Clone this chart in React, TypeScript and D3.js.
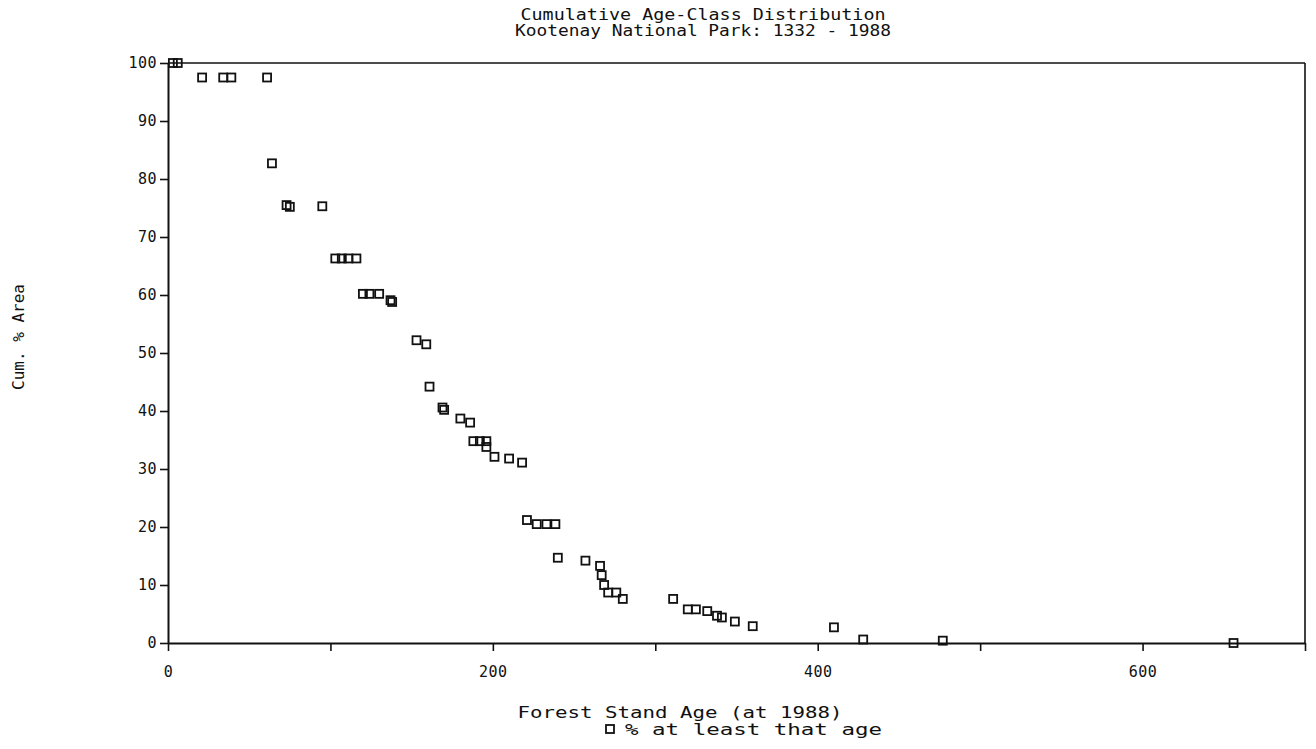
import React, { useRef, useEffect } from 'react';
import * as d3 from 'd3';

// stand age (years at 1988) and cumulative % area at least that age
const AGES = [
  3, 6, 21, 34, 39, 61, 64, 73, 75, 95,
  103, 107, 111, 116, 120, 124, 130, 137, 138, 153,
  159, 161, 169, 170, 180, 186, 188, 192, 196, 196,
  201, 210, 218, 221, 227, 233, 238.5, 240, 257, 266,
  267, 268.5, 271, 276, 280, 311, 320, 325, 332, 338,
  341, 349, 360, 410, 428, 477, 656,
];
const CUM_PCT = [
  100, 100, 97.5, 97.5, 97.5, 97.5, 82.7, 75.5, 75.2, 75.3,
  66.3, 66.3, 66.3, 66.3, 60.2, 60.2, 60.2, 59.1, 58.8, 52.2,
  51.5, 44.2, 40.6, 40.2, 38.7, 38, 34.8, 34.8, 34.8, 33.8,
  32.1, 31.8, 31.1, 21.2, 20.5, 20.5, 20.5, 14.7, 14.2, 13.3,
  11.7, 10, 8.7, 8.7, 7.6, 7.6, 5.8, 5.8, 5.5, 4.7,
  4.4, 3.7, 2.9, 2.7, 0.6, 0.4, 0,
];

const X_TICKS = [0, 100, 200, 300, 400, 500, 600, 700];
const X_LABELS = [0, 200, 400, 600];
const Y_TICKS = [0, 10, 20, 30, 40, 50, 60, 70, 80, 90, 100];

const TITLE = ['Cumulative Age-Class Distribution', 'Kootenay National Park: 1332 - 1988'];
const FONT = "'DejaVu Sans Mono', 'Liberation Mono', monospace";

export default function App() {
  const ref = useRef<SVGSVGElement | null>(null);

  useEffect(() => {
    if (!ref.current) return;
    const svg = d3.select(ref.current);
    svg.selectAll('*').remove();

    const left = 168, right = 1305, top = 63, bottom = 643;
    const x = d3.scaleLinear().domain([0, 700]).range([left, right]);
    const y = d3.scaleLinear().domain([0, 100]).range([bottom, top]);
    const ink = '#111';

    svg.append('rect').attr('width', 1316).attr('height', 749).attr('fill', '#fff');

    // ── Title ──────────────────────────────────────────────
    TITLE.forEach((t, i) => {
      svg.append('text')
        .attr('x', 703).attr('y', 20 + i * 16)
        .attr('text-anchor', 'middle')
        .attr('font-family', FONT).attr('font-size', 15)
        .attr('textLength', i === 0 ? 365 : 376)
        .attr('lengthAdjust', 'spacingAndGlyphs')
        .attr('fill', ink)
        .text(t);
    });

    // ── Frame ──────────────────────────────────────────────
    svg.append('line').attr('x1', left).attr('x2', right).attr('y1', top).attr('y2', top)
      .attr('stroke', ink).attr('stroke-width', 1.6);
    svg.append('line').attr('x1', right).attr('x2', right).attr('y1', top).attr('y2', bottom)
      .attr('stroke', ink).attr('stroke-width', 1.6);

    // ── Y axis ─────────────────────────────────────────────
    const yAxis = d3.axisLeft(y).tickValues(Y_TICKS).tickSize(8).tickSizeOuter(0).tickPadding(3)
      .tickFormat(d => `${d}`);
    svg.append('g')
      .attr('transform', `translate(${left},0)`)
      .call(yAxis)
      .call(ax => ax.select('.domain').attr('stroke', ink).attr('stroke-width', 2))
      .call(ax => ax.selectAll('.tick line').attr('stroke', ink).attr('stroke-width', 1.6))
      .call(ax => ax.selectAll('.tick text')
        .attr('fill', ink).attr('font-size', 15).attr('font-family', FONT)
        .attr('letter-spacing', '0.5px'));

    // ── X axis ─────────────────────────────────────────────
    const xAxis = d3.axisBottom(x).tickValues(X_TICKS).tickSize(8).tickSizeOuter(0).tickPadding(15)
      .tickFormat(d => (X_LABELS.includes(+d) ? `${d}` : ''));
    svg.append('g')
      .attr('transform', `translate(0,${bottom})`)
      .call(xAxis)
      .call(ax => ax.select('.domain').attr('stroke', ink).attr('stroke-width', 2))
      .call(ax => ax.selectAll('.tick line').attr('stroke', ink).attr('stroke-width', 1.6))
      .call(ax => ax.selectAll('.tick text')
        .attr('fill', ink).attr('font-size', 15).attr('font-family', FONT)
        .attr('letter-spacing', '0.5px'));

    // ── Axis labels ────────────────────────────────────────
    svg.append('text')
      .attr('transform', 'translate(24,337) rotate(-90)')
      .attr('text-anchor', 'middle')
      .attr('font-family', FONT).attr('font-size', 15)
      .attr('textLength', 106).attr('lengthAdjust', 'spacingAndGlyphs')
      .attr('fill', ink)
      .text('Cum. % Area');

    svg.append('text')
      .attr('x', 680).attr('y', 718)
      .attr('text-anchor', 'middle')
      .attr('font-family', FONT).attr('font-size', 15)
      .attr('textLength', 325).attr('lengthAdjust', 'spacingAndGlyphs')
      .attr('fill', ink)
      .text('Forest Stand Age (at 1988)');

    // legend
    svg.append('rect')
      .attr('x', 606).attr('y', 725).attr('width', 8).attr('height', 8)
      .attr('fill', 'none').attr('stroke', ink).attr('stroke-width', 1.8);
    svg.append('text')
      .attr('x', 625).attr('y', 735)
      .attr('font-family', FONT).attr('font-size', 15)
      .attr('textLength', 257).attr('lengthAdjust', 'spacingAndGlyphs')
      .attr('fill', ink)
      .text('% at least that age');

    // ── Points ─────────────────────────────────────────────
    const s = 8;
    svg.append('g')
      .selectAll('rect')
      .data(AGES.map((a, i) => [a, CUM_PCT[i]]))
      .join('rect')
      .attr('x', d => x(d[0]) - s / 2)
      .attr('y', d => y(d[1]) - s / 2)
      .attr('width', s).attr('height', s)
      .attr('fill', 'none')
      .attr('stroke', ink)
      .attr('stroke-width', 1.8);
  }, []);

  return (
    <svg
      ref={ref}
      width={1316}
      height={749}
      style={{ position: 'absolute', left: 0, top: 0, display: 'block' }}
    />
  );
}
